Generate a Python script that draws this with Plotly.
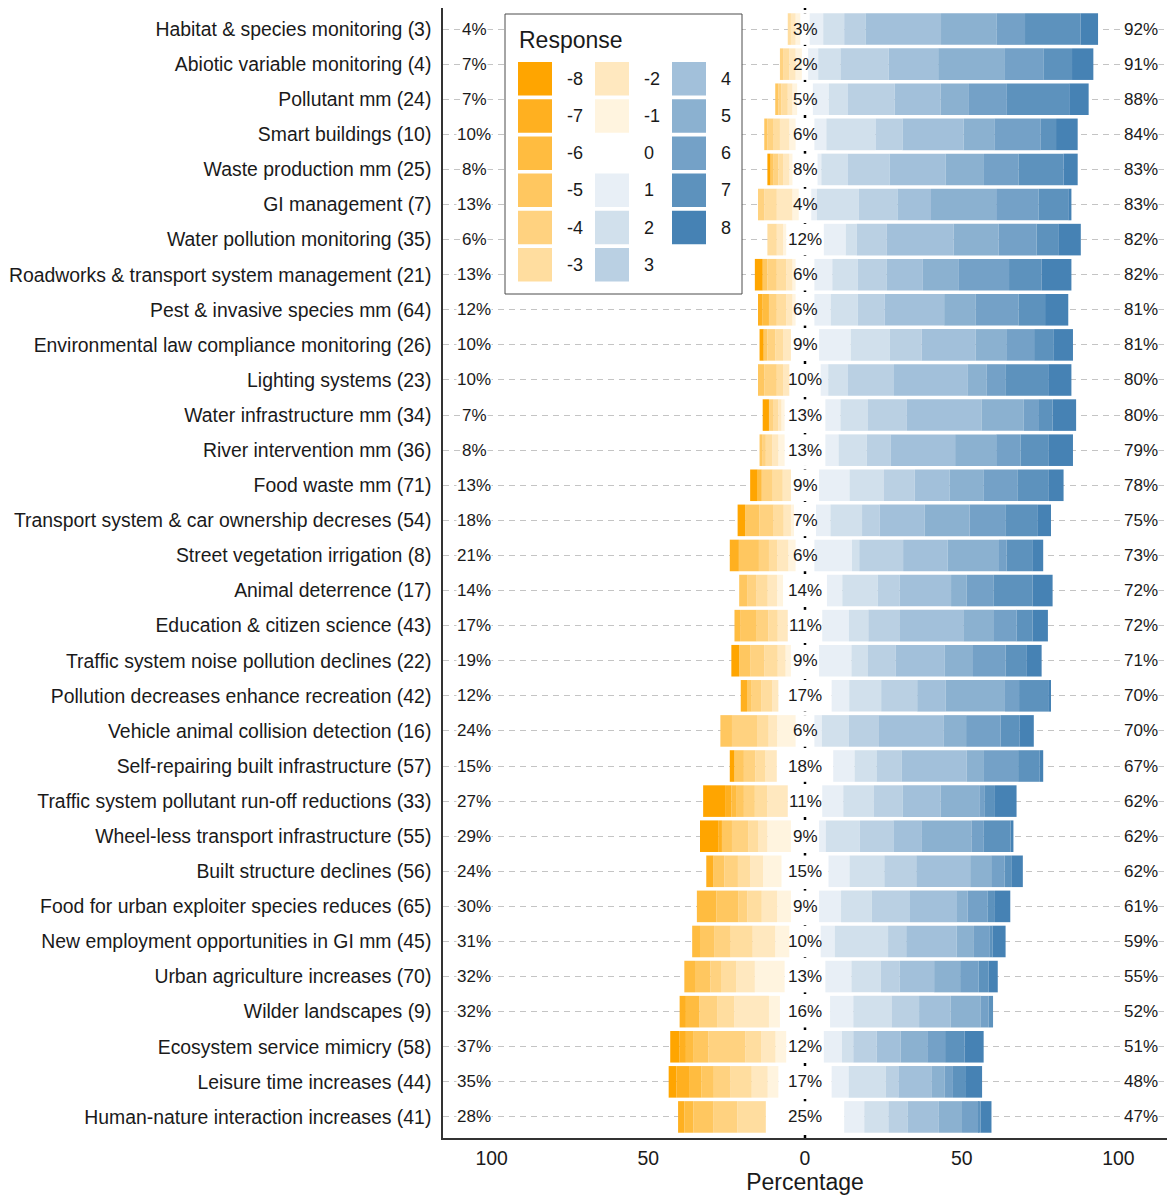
import plotly.graph_objects as go

# ---- data -------------------------------------------------------------
categories = [
    "Habitat & species monitoring (3)",
    "Abiotic variable monitoring (4)",
    "Pollutant mm (24)",
    "Smart buildings (10)",
    "Waste production mm (25)",
    "GI management (7)",
    "Water pollution monitoring (35)",
    "Roadworks & transport system management (21)",
    "Pest & invasive species mm (64)",
    "Environmental law compliance monitoring (26)",
    "Lighting systems (23)",
    "Water infrastructure mm (34)",
    "River intervention mm (36)",
    "Food waste mm (71)",
    "Transport system & car ownership decreses (54)",
    "Street vegetation irrigation (8)",
    "Animal deterrence (17)",
    "Education & citizen science (43)",
    "Traffic system noise pollution declines (22)",
    "Pollution decreases enhance recreation (42)",
    "Vehicle animal collision detection (16)",
    "Self-repairing built infrastructure (57)",
    "Traffic system pollutant run-off reductions (33)",
    "Wheel-less transport infrastructure (55)",
    "Built structure declines (56)",
    "Food for urban exploiter species reduces (65)",
    "New employment opportunities in GI mm (45)",
    "Urban agriculture increases (70)",
    "Wilder landscapes (9)",
    "Ecosystem service mimicry (58)",
    "Leisure time increases (44)",
    "Human-nature interaction increases (41)",
]

# percentage of respondents per response level (negative levels as magnitudes)
resp_m8 = [0, 0, 0, 0, 1, 0, 0, 2.5, 0, 1.3, 0, 2, 0, 2.4, 2.4, 0, 0, 0, 2.5, 0, 0, 1.5, 7, 5.8, 0, 0, 0, 0, 0, 3, 2.5, 0]
resp_m7 = [0, 0, 0, 0, 0, 0, 0, 0, 1.5, 0, 0, 0, 0, 0, 0, 2.9, 0, 0, 0, 2, 0, 0, 2, 1.2, 2.3, 0, 0, 0, 2, 2, 4, 2]
resp_m6 = [0, 0, 0, 0, 0, 0, 0, 0, 2, 0, 0, 0, 0, 1.3, 0, 0, 0, 1.8, 0, 0, 0, 0, 1.5, 0, 0, 6.2, 2.5, 3.4, 4.3, 2.5, 3.9, 2.9]
resp_m5 = [0, 0, 1, 1, 1, 0, 0, 1.5, 0, 1.2, 2, 0, 1, 0, 4.6, 6.4, 2.7, 5.3, 3.5, 1.5, 3.7, 3, 2.5, 3.2, 3.5, 7.1, 4.5, 4.9, 0, 4.7, 4, 6.3]
resp_m4 = [0, 1, 1, 2, 1.5, 2, 0, 3, 2.5, 2.5, 4, 1.5, 1, 3.5, 4.5, 3.2, 2.7, 3.7, 4.5, 3, 8, 3.7, 3.5, 5.3, 4.3, 2.8, 5.3, 3.4, 5.8, 11.8, 5.2, 7.7]
resp_m3 = [1, 2, 2, 2, 1.5, 4, 3, 3, 3, 2.5, 2, 1.5, 2, 3.2, 3.2, 2.7, 3.7, 3, 4.3, 3.5, 3.7, 3.2, 4, 3, 4, 4.6, 7, 4.8, 5.3, 5, 6.9, 9.1]
resp_m2 = [1.5, 2, 1.5, 3, 2, 5, 2, 2, 2, 2.5, 2, 1, 2, 2.6, 2.3, 3.5, 3, 3.2, 2.5, 2, 2.7, 3.6, 6.5, 3, 4, 4.9, 7.2, 6, 11.1, 4.6, 5.1, 0]
resp_m1 = [1.5, 2, 1.5, 2, 1, 2, 1, 1, 1, 0, 0, 1, 2, 0, 1, 2.3, 1.9, 0, 1.7, 0, 5.9, 0, 0, 7.5, 5.9, 4.4, 4.5, 9.5, 3.5, 3.4, 3.4, 0]
neutral = [3, 2, 5, 6, 8, 4, 12, 6, 6, 9, 10, 13, 13, 9, 7, 6, 14, 11, 9, 17, 6, 18, 11, 9, 15, 9, 10, 13, 16, 12, 17, 25]
resp_p1 = [4.3, 3.2, 5.1, 3.8, 1.2, 1.8, 7.0, 5.7, 5.2, 10.1, 2.4, 4.8, 4.2, 9.7, 4.6, 12.0, 4.9, 8.5, 10.3, 5.6, 2.4, 6.8, 6.7, 2.1, 6.7, 7.0, 4.5, 8.3, 7.4, 5.8, 5.4, 6.4]
resp_p2 = [6.7, 7.1, 6.1, 15.7, 8.5, 13.4, 3.5, 8.1, 8.6, 12.4, 6.3, 8.8, 9.0, 11.0, 10.1, 2.3, 11.3, 6.2, 5.3, 10.2, 8.5, 7.0, 9.8, 10.9, 11.1, 9.8, 17.0, 9.4, 12.2, 3.6, 11.9, 7.7]
resp_p3 = [6.8, 15.4, 14.9, 8.6, 13.3, 12.3, 9.6, 9.2, 8.6, 10.2, 14.7, 12.4, 7.7, 9.8, 5.6, 14.0, 7.0, 10.1, 8.8, 11.5, 9.7, 8.1, 9.2, 10.7, 10.2, 12.2, 5.8, 6.0, 8.8, 7.5, 4.0, 6.1]
resp_p4 = [24.1, 15.8, 14.7, 19.5, 17.9, 10.7, 21.3, 11.6, 19.0, 17.2, 23.4, 23.8, 20.5, 11.1, 14.4, 14.2, 16.4, 20.2, 15.7, 9.1, 20.7, 20.7, 12.1, 9.1, 17.2, 15.0, 16.1, 11.0, 10.1, 7.6, 10.5, 10.0]
resp_p5 = [17.8, 21.3, 9.0, 9.8, 12.2, 20.8, 14.4, 11.5, 10.1, 9.8, 6.2, 13.5, 13.1, 10.8, 14.3, 16.4, 5.0, 9.8, 9.0, 18.9, 7.1, 5.5, 12.5, 15.8, 6.7, 3.4, 5.5, 8.3, 9.6, 8.5, 4.3, 7.4]
resp_p6 = [9.0, 12.4, 12.1, 14.7, 11.0, 13.5, 12.1, 16.0, 13.6, 8.9, 5.9, 4.6, 7.8, 11.0, 11.4, 2.4, 8.5, 7.2, 10.4, 4.5, 11.0, 10.9, 1.4, 3.8, 4.3, 6.3, 4.9, 5.9, 2.5, 5.7, 2.6, 5.4]
resp_p7 = [17.7, 9.0, 19.9, 5.0, 14.4, 9.5, 6.9, 10.4, 8.5, 6.3, 13.7, 4.6, 9.0, 9.9, 10.2, 8.2, 12.5, 5.1, 6.6, 9.3, 6.0, 6.9, 3.4, 8.7, 2.3, 2.4, 1.0, 3.2, 1.4, 6.2, 3.9, 0.5]
resp_p8 = [5.6, 6.8, 6.2, 6.9, 4.5, 1.0, 7.2, 9.5, 7.4, 6.1, 7.4, 7.5, 7.7, 4.7, 4.4, 3.5, 6.4, 4.9, 4.9, 0.9, 4.6, 1.1, 6.9, 0.9, 3.5, 4.9, 4.2, 2.9, 0.0, 6.1, 5.4, 3.5]

levels = list(range(-8, 9))
x_tick_vals = [-100, -50, 0, 50, 100]
x_tick_text = ["100", "50", "0", "50", "100"]

negative = {-8: resp_m8, -7: resp_m7, -6: resp_m6, -5: resp_m5,
            -4: resp_m4, -3: resp_m3, -2: resp_m2, -1: resp_m1}
positive = {1: resp_p1, 2: resp_p2, 3: resp_p3, 4: resp_p4,
            5: resp_p5, 6: resp_p6, 7: resp_p7, 8: resp_p8}

# ---- colours: white -> orange (disagree), white -> steelblue (agree) ----
ORANGE = (255, 165, 0)
STEEL = (70, 130, 180)


def level_colour(level):
    if level == 0:
        return "rgb(255,255,255)"
    end = ORANGE if level < 0 else STEEL
    t = abs(level) / 8
    r, g, b = (round(255 + (c - 255) * t) for c in end)
    return f"rgb({r},{g},{b})"


FONT = "Liberation Sans, Arial, sans-serif"
TXT = "#1a1a1a"

fig = go.Figure()

# neutral share is split evenly around zero and drawn in white
half = [n / 2 for n in neutral]
bar_style = dict(orientation="h", showlegend=False, hoverinfo="skip")
fig.add_trace(go.Bar(y=categories, x=[-h for h in half],
                     marker=dict(color=level_colour(0), line=dict(width=0)), **bar_style))
fig.add_trace(go.Bar(y=categories, x=half,
                     marker=dict(color=level_colour(0), line=dict(width=0)), **bar_style))
for k in range(1, 9):
    fig.add_trace(go.Bar(y=categories, x=[-v for v in negative[-k]],
                         marker=dict(color=level_colour(-k), line=dict(width=0)), **bar_style))
    fig.add_trace(go.Bar(y=categories, x=positive[k],
                         marker=dict(color=level_colour(k), line=dict(width=0)), **bar_style))

# percentage labels: disagree (left), neutral (centre), agree (right)
annotations = []
for i, cat in enumerate(categories):
    neg_total = sum(negative[l][i] for l in negative)
    pos_total = sum(positive[l][i] for l in positive)
    common = dict(y=cat, xref="x", yref="y", showarrow=False,
                  font=dict(family=FONT, size=17, color=TXT))
    annotations.append(dict(x=-105.5, text=f"{round(neg_total)}%",
                            bgcolor="white", borderpad=0, **common))
    annotations.append(dict(x=0, text=f"{neutral[i]}%", **common))
    annotations.append(dict(x=107.2, text=f"{round(pos_total)}%",
                            bgcolor="white", borderpad=0, **common))

# ---- legend drawn inside the panel (three columns) -----------------------
W, H = 1167, 1197
L, R, T, B = 443, 0, 8, 59
PW, PH = W - L - R, H - T - B


def px_x(p):
    return (p - L) / PW


def px_y(p):
    return (H - B - p) / PH


shapes = [
    # zero reference line
    dict(type="line", xref="x", yref="paper", x0=0, x1=0, y0=0, y1=1,
         line=dict(color="black", width=2.5, dash="3px,3px"), layer="below"),
    # legend frame
    dict(type="rect", xref="paper", yref="paper",
         x0=px_x(505), x1=px_x(742), y0=px_y(294), y1=px_y(14),
         line=dict(color="#4d4d4d", width=1), fillcolor="white", layer="above"),
]
annotations.append(dict(xref="paper", yref="paper", x=px_x(517), y=px_y(40),
                        xanchor="left", yanchor="middle", showarrow=False,
                        text="Response", font=dict(family=FONT, size=23, color=TXT)))

col_left = [518, 595, 672]
key_w, key_h, row_step, first_top = 34, 33.5, 37.2, 62
for idx, lev in enumerate(levels):
    col, row = divmod(idx, 6)
    x0 = col_left[col]
    y0 = first_top + row * row_step
    shapes.append(dict(type="rect", xref="paper", yref="paper",
                       x0=px_x(x0), x1=px_x(x0 + key_w),
                       y0=px_y(y0 + key_h), y1=px_y(y0),
                       line=dict(width=0), fillcolor=level_colour(lev), layer="above"))
    annotations.append(dict(xref="paper", yref="paper",
                            x=px_x(x0 + key_w + 13), y=px_y(y0 + key_h / 2),
                            xanchor="left", yanchor="middle", showarrow=False,
                            text=str(lev), font=dict(family=FONT, size=18, color=TXT)))

fig.update_layout(
    width=W, height=H,
    margin=dict(l=L, r=R, t=T, b=B, pad=0),
    barmode="relative", bargap=0.1,
    plot_bgcolor="white", paper_bgcolor="white",
    font=dict(family=FONT, color=TXT),
    shapes=shapes, annotations=annotations,
    xaxis=dict(range=[-115.5, 115.5], tickvals=x_tick_vals, ticktext=x_tick_text,
               showgrid=False, zeroline=False, showline=True, linecolor="#333333",
               linewidth=1.5, ticks="", ticklabelstandoff=2,
               tickfont=dict(family=FONT, size=19.4, color=TXT),
               title=dict(text="Percentage", standoff=2,
                          font=dict(family=FONT, size=23, color=TXT)),
               automargin=False, fixedrange=True),
    yaxis=dict(type="category", categoryorder="array", categoryarray=categories,
               range=[len(categories) - 0.4, -0.6],
               showgrid=True, gridcolor="#c4c4c4", gridwidth=1, griddash="6px,5px",
               zeroline=False, showline=True, linecolor="#333333", linewidth=1.5,
               ticks="", ticklabelstandoff=6,
               tickfont=dict(family=FONT, size=19.4, color=TXT),
               automargin=False, fixedrange=True),
)

fig.write_html("out.html")
